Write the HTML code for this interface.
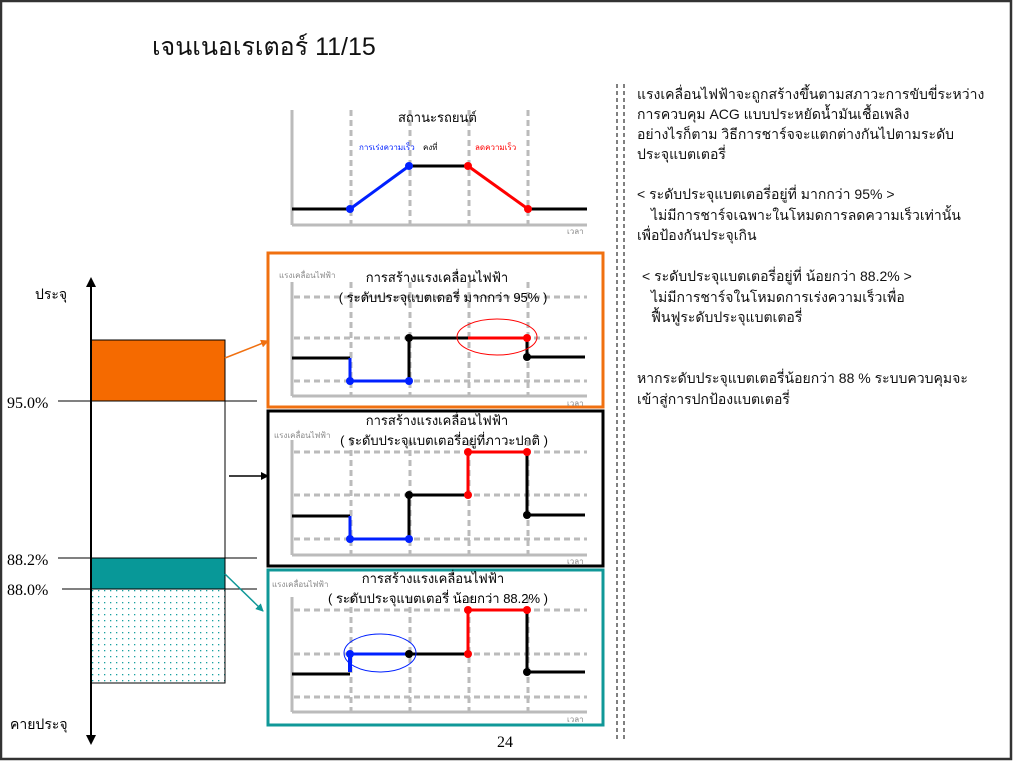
<!DOCTYPE html>
<html><head><meta charset="utf-8"><style>
html,body{margin:0;padding:0;background:#fff}
svg{display:block}
text{font-family:"Liberation Sans","DejaVu Sans","Noto Sans CJK SC",sans-serif}
.s{font-family:"Liberation Serif","DejaVu Serif",serif}
</style></head><body>
<svg width="1013" height="762" viewBox="0 0 1013 762" xmlns="http://www.w3.org/2000/svg">
<defs>
<pattern id="dots" width="6" height="6" patternUnits="userSpaceOnUse"><rect x="2" y="2" width="1.3" height="1.3" fill="#17a0a0"/></pattern>
<marker id="ab" markerWidth="8" markerHeight="8" refX="7" refY="4" orient="auto" markerUnits="userSpaceOnUse"><path d="M0,0 L8,4 L0,8z" fill="#000"/></marker>
<marker id="ao" markerWidth="8" markerHeight="8" refX="7" refY="4" orient="auto" markerUnits="userSpaceOnUse"><path d="M0,0 L8,4 L0,8z" fill="#f07010"/></marker>
<marker id="at" markerWidth="8" markerHeight="8" refX="7" refY="4" orient="auto" markerUnits="userSpaceOnUse"><path d="M0,0 L8,4 L0,8z" fill="#109898"/></marker>
</defs>
<rect x="1" y="1" width="1010" height="758" fill="none" stroke="#333" stroke-width="2.5"/>
<text x="152" y="55" font-size="25" fill="#111">เจนเนอเรเตอร์ 11/15</text>

<g>
<line x1="292" y1="110" x2="292" y2="225" stroke="#bbb" stroke-width="3"/>
<line x1="292" y1="225" x2="587" y2="225" stroke="#bbb" stroke-width="3"/>
<g stroke="#bbb" stroke-width="3" stroke-dasharray="6,4">
<line x1="351" y1="110" x2="351" y2="224"/><line x1="410" y1="110" x2="410" y2="224"/><line x1="469" y1="110" x2="469" y2="224"/><line x1="528" y1="110" x2="528" y2="224"/></g>
<polyline points="292,209 350,209" stroke="#000" stroke-width="3" fill="none"/>
<polyline points="350,209 409,166" stroke="#0020ff" stroke-width="3" fill="none"/>
<polyline points="409,166 468,166" stroke="#000" stroke-width="3" fill="none"/>
<polyline points="468,166 528,209" stroke="#f00" stroke-width="3" fill="none"/>
<polyline points="528,209 587,209" stroke="#000" stroke-width="3" fill="none"/>
<circle cx="350" cy="209" r="4" fill="#0020ff"/><circle cx="409" cy="166" r="4" fill="#0020ff"/>
<circle cx="468" cy="166" r="4" fill="#f00"/><circle cx="528" cy="209" r="4" fill="#f00"/>
<text x="398" y="122" font-size="13">สถานะรถยนต์</text>
<text x="359" y="150" font-size="8" fill="#0020ff">การเร่งความเร็ว</text>
<text x="423" y="150" font-size="8">คงที่</text>
<text x="475" y="150" font-size="8" fill="#f00">ลดความเร็ว</text>
<text x="567" y="234" font-size="8" fill="#888">เวลา</text>
</g>

<rect x="268" y="253" width="335" height="154" fill="none" stroke="#f07010" stroke-width="3"/>
<g>
<line x1="292" y1="282" x2="292" y2="396" stroke="#bbb" stroke-width="3"/>
<line x1="292" y1="396" x2="587" y2="396" stroke="#bbb" stroke-width="3"/>
<g stroke="#bbb" stroke-width="3" stroke-dasharray="6,4">
<line x1="351" y1="282" x2="351" y2="395"/><line x1="410" y1="282" x2="410" y2="395"/><line x1="469" y1="282" x2="469" y2="395"/><line x1="528" y1="282" x2="528" y2="395"/>
<line x1="294" y1="297" x2="587" y2="297"/><line x1="294" y1="338" x2="587" y2="338"/><line x1="294" y1="381" x2="587" y2="381"/></g>
<polyline points="292,358 350,358" stroke="#000" stroke-width="3" fill="none"/>
<polyline points="350,358 350,381 409,381" stroke="#0020ff" stroke-width="3" fill="none"/>
<polyline points="409,381 409,338 468,338" stroke="#000" stroke-width="3" fill="none"/>
<polyline points="468,338 527,338" stroke="#f00" stroke-width="3" fill="none"/>
<polyline points="527,338 527,357 585,357" stroke="#000" stroke-width="3" fill="none"/>
<circle cx="350" cy="381" r="4" fill="#0020ff"/><circle cx="409" cy="381" r="4" fill="#0020ff"/>
<circle cx="409" cy="338" r="4" fill="#000"/><circle cx="527" cy="338" r="4" fill="#f00"/><circle cx="527" cy="357" r="4" fill="#000"/>
<ellipse cx="497" cy="337" rx="40" ry="18" fill="none" stroke="#f00" stroke-width="1"/>
<text x="279" y="278" font-size="8" fill="#888">แรงเคลื่อนไฟฟ้า</text>
<text x="437" y="282" font-size="13" text-anchor="middle">การสร้างแรงเคลื่อนไฟฟ้า</text>
<text x="443" y="302" font-size="13" text-anchor="middle">( ระดับประจุแบตเตอรี่ มากกว่า 95% )</text>
<text x="567" y="406" font-size="8" fill="#888">เวลา</text>
</g>

<rect x="268" y="411" width="335" height="155" fill="none" stroke="#000" stroke-width="3"/>
<g>
<line x1="292" y1="440" x2="292" y2="555" stroke="#bbb" stroke-width="3"/>
<line x1="292" y1="555" x2="587" y2="555" stroke="#bbb" stroke-width="3"/>
<g stroke="#bbb" stroke-width="3" stroke-dasharray="6,4">
<line x1="351" y1="440" x2="351" y2="554"/><line x1="410" y1="440" x2="410" y2="554"/><line x1="469" y1="440" x2="469" y2="554"/><line x1="528" y1="440" x2="528" y2="554"/>
<line x1="294" y1="452" x2="587" y2="452"/><line x1="294" y1="495" x2="587" y2="495"/><line x1="294" y1="539" x2="587" y2="539"/></g>
<polyline points="292,516 350,516" stroke="#000" stroke-width="3" fill="none"/>
<polyline points="350,516 350,539 409,539" stroke="#0020ff" stroke-width="3" fill="none"/>
<polyline points="409,539 409,495 468,495" stroke="#000" stroke-width="3" fill="none"/>
<polyline points="468,495 468,452 527,452" stroke="#f00" stroke-width="3" fill="none"/>
<polyline points="527,452 527,515 585,515" stroke="#000" stroke-width="3" fill="none"/>
<circle cx="350" cy="539" r="4" fill="#0020ff"/><circle cx="409" cy="539" r="4" fill="#0020ff"/>
<circle cx="409" cy="495" r="4" fill="#000"/><circle cx="468" cy="495" r="4" fill="#f00"/>
<circle cx="468" cy="452" r="4" fill="#f00"/><circle cx="527" cy="452" r="4" fill="#f00"/><circle cx="527" cy="515" r="4" fill="#000"/>
<text x="274" y="438" font-size="8" fill="#888">แรงเคลื่อนไฟฟ้า</text>
<text x="437" y="425" font-size="13" text-anchor="middle">การสร้างแรงเคลื่อนไฟฟ้า</text>
<text x="444" y="445" font-size="13" text-anchor="middle">( ระดับประจุแบตเตอรี่อยู่ที่ภาวะปกติ )</text>
<text x="567" y="564" font-size="8" fill="#888">เวลา</text>
</g>

<rect x="268" y="570" width="335" height="155" fill="none" stroke="#109898" stroke-width="3"/>
<g>
<line x1="292" y1="597" x2="292" y2="712" stroke="#bbb" stroke-width="3"/>
<line x1="292" y1="712" x2="587" y2="712" stroke="#bbb" stroke-width="3"/>
<g stroke="#bbb" stroke-width="3" stroke-dasharray="6,4">
<line x1="351" y1="597" x2="351" y2="711"/><line x1="410" y1="597" x2="410" y2="711"/><line x1="469" y1="597" x2="469" y2="711"/><line x1="528" y1="597" x2="528" y2="711"/>
<line x1="294" y1="610" x2="587" y2="610"/><line x1="294" y1="654" x2="587" y2="654"/><line x1="294" y1="697" x2="587" y2="697"/></g>
<polyline points="292,674 350,674" stroke="#000" stroke-width="3" fill="none"/>
<line x1="350" y1="672" x2="350" y2="654" stroke="#0020ff" stroke-width="4"/>
<polyline points="350,654 409,654" stroke="#0020ff" stroke-width="3" fill="none"/>
<polyline points="409,654 468,654" stroke="#000" stroke-width="3" fill="none"/>
<polyline points="468,654 468,610 527,610" stroke="#f00" stroke-width="3" fill="none"/>
<polyline points="527,610 527,672 585,672" stroke="#000" stroke-width="3" fill="none"/>
<circle cx="350" cy="654" r="4" fill="#0020ff"/><circle cx="409" cy="654" r="4" fill="#000"/>
<circle cx="468" cy="654" r="4" fill="#f00"/><circle cx="468" cy="610" r="4" fill="#f00"/><circle cx="527" cy="610" r="4" fill="#f00"/><circle cx="527" cy="672" r="4" fill="#000"/>
<ellipse cx="380" cy="653" rx="36" ry="19" fill="none" stroke="#0020ff" stroke-width="1"/>
<text x="272" y="587" font-size="8" fill="#888">แรงเคลื่อนไฟฟ้า</text>
<text x="433" y="583" font-size="13" text-anchor="middle">การสร้างแรงเคลื่อนไฟฟ้า</text>
<text x="438" y="603" font-size="13" text-anchor="middle">( ระดับประจุแบตเตอรี่ น้อยกว่า 88.2% )</text>
<text x="567" y="722" font-size="8" fill="#888">เวลา</text>
</g>

<rect x="91" y="340" width="134" height="61" fill="#f56a00" stroke="#000" stroke-width="1"/>
<rect x="91" y="401" width="134" height="157" fill="#fff" stroke="#000" stroke-width="1"/>
<rect x="91" y="558" width="134" height="31" fill="#089898" stroke="#000" stroke-width="1"/>
<rect x="91" y="589" width="134" height="94" fill="url(#dots)" stroke="#000" stroke-width="1"/>
<line x1="58" y1="401" x2="257" y2="401" stroke="#000" stroke-width="1"/>
<line x1="58" y1="558" x2="257" y2="558" stroke="#000" stroke-width="1"/>
<line x1="62" y1="589" x2="257" y2="589" stroke="#000" stroke-width="1"/>
<line x1="91" y1="286" x2="91" y2="736" stroke="#000" stroke-width="2"/>
<path d="M86,287 L91,277 L96,287z" fill="#000"/>
<path d="M86,735 L91,745 L96,735z" fill="#000"/>
<text x="35" y="299" font-size="14">ประจุ</text>
<text x="10" y="729" font-size="14">คายประจุ</text>
<text x="7" y="408" font-size="16" class="s">95.0%</text>
<text x="7" y="565" font-size="16" class="s">88.2%</text>
<text x="7" y="595" font-size="16" class="s">88.0%</text>
<line x1="225" y1="358" x2="268" y2="341" stroke="#f07010" stroke-width="1.5" marker-end="url(#ao)"/>
<line x1="229" y1="476" x2="268" y2="476" stroke="#000" stroke-width="1.5" marker-end="url(#ab)"/>
<line x1="225" y1="574" x2="263" y2="611" stroke="#109898" stroke-width="1.5" marker-end="url(#at)"/>
<text x="497" y="747" font-size="16" class="s">24</text>

<line x1="617" y1="84" x2="617" y2="742" stroke="#000" stroke-width="1" stroke-dasharray="4,3"/>
<line x1="624" y1="84" x2="624" y2="742" stroke="#000" stroke-width="1" stroke-dasharray="4,3"/>

<g font-size="14" fill="#111">
<text x="637" y="99">แรงเคลื่อนไฟฟ้าจะถูกสร้างขึ้นตามสภาวะการขับขี่ระหว่าง</text>
<text x="637" y="119">การควบคุม ACG แบบประหยัดน้ำมันเชื้อเพลิง</text>
<text x="637" y="139">อย่างไรก็ตาม วิธีการชาร์จจะแตกต่างกันไปตามระดับ</text>
<text x="637" y="159">ประจุแบตเตอรี่</text>
<text x="637" y="199">&lt; ระดับประจุแบตเตอรี่อยู่ที่ มากกว่า 95% &gt;</text>
<text x="651" y="220">ไม่มีการชาร์จเฉพาะในโหมดการลดความเร็วเท่านั้น</text>
<text x="637" y="240">เพื่อป้องกันประจุเกิน</text>
<text x="642" y="281">&lt; ระดับประจุแบตเตอรี่อยู่ที่ น้อยกว่า 88.2% &gt;</text>
<text x="651" y="302">ไม่มีการชาร์จในโหมดการเร่งความเร็วเพื่อ</text>
<text x="651" y="322">ฟื้นฟูระดับประจุแบตเตอรี่</text>
<text x="637" y="383">หากระดับประจุแบตเตอรี่น้อยกว่า 88 % ระบบควบคุมจะ</text>
<text x="637" y="404">เข้าสู่การปกป้องแบตเตอรี่</text>
</g>
</svg>
</body></html>
